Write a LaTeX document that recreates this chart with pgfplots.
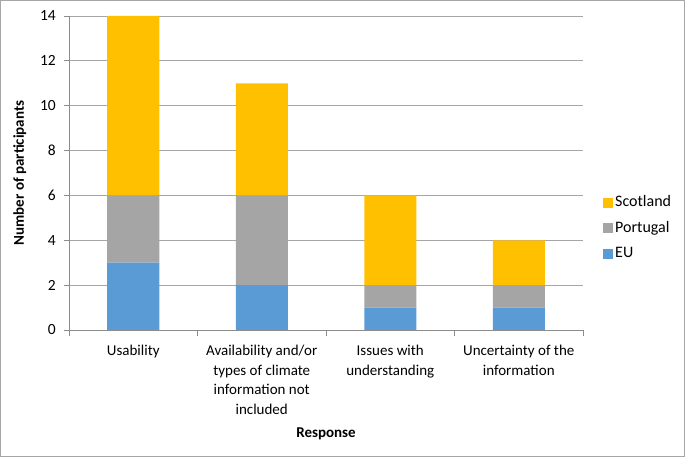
\documentclass[border=0pt]{standalone}
\usepackage{pgfplots}
\pgfplotsset{compat=1.18}
\usepackage{pgfplotstable}
\usepackage{fontspec}
\setmainfont{Carlito}
\definecolor{cEU}{HTML}{5B9BD5}
\definecolor{cPT}{HTML}{A5A5A5}
\definecolor{cSC}{HTML}{FFC000}
\definecolor{axisgray}{HTML}{8C8C8C}
\definecolor{gridgray}{HTML}{A6A6A6}
\pgfplotstableread{
x EU Portugal Scotland
0 3 3 8
1 2 4 5
2 1 1 4
3 1 1 2
}\datatable
\begin{document}
\fontsize{15}{19.5}\selectfont
\begin{tikzpicture}
\draw[gray!70, line width=1pt] (0.5pt,0.5pt) rectangle (684.5pt,456.5pt);
\begin{axis}[
  at={(69pt,127pt)}, anchor=south west,
  width=514pt, height=314pt, scale only axis,
  ybar stacked, bar width=52pt,
  xmin=-0.5, xmax=3.5, ymin=0, ymax=14,
  ytick={0,2,...,14},
  xtick={0,1,2,3},
  xticklabels={Usability, {Availability and/or\\types of climate\\information not\\included}, {Issues with\\understanding}, {Uncertainty of the\\information}},
  xticklabel style={align=center, yshift=-5pt, font=\fontsize{15}{19.5}\selectfont},
  yticklabel style={font=\fontsize{15.5}{18}\selectfont, xshift=-3pt},
  /pgf/number format/assume math mode=true,
  axis x line=bottom, axis y line=left,
  axis line style={-, draw=axisgray, line width=0.8pt},
  tick align=outside,
  x tick style={draw=none},
  y tick style={draw=axisgray, line width=0.8pt},
  major tick length=5pt,
  extra x ticks={-0.5,0.5,1.5,2.5,3.5},
  extra x tick labels={},
  extra x tick style={grid=none, major tick length=6pt, x tick style={draw=axisgray, line width=0.8pt}},
  ymajorgrids, grid style={draw=gridgray, line width=0.8pt},
  xlabel={\textbf{Response}},
  ylabel={\textbf{Number of participants}},
  xlabel style={at={(0.5,0)}, anchor=base, yshift=-108pt, font=\fontsize{15}{18}\selectfont},
  ylabel style={at={(0,0.5)}, anchor=base, yshift=45pt, font=\fontsize{15}{18}\selectfont},
  legend style={at={(1,0.325)}, anchor=west, xshift=20pt, draw=none, fill=none,
    font=\fontsize{16}{18}\selectfont, row sep=8.5pt, inner sep=0pt},
  legend cell align=left,
  reverse legend,
  legend image code/.code={\fill[#1] (0pt,-5pt) rectangle (10pt,5pt);},
]
\addplot[fill=cEU, draw=none] table[x=x, y=EU] {\datatable};
\addplot[fill=cPT, draw=none] table[x=x, y=Portugal] {\datatable};
\addplot[fill=cSC, draw=none] table[x=x, y=Scotland] {\datatable};
\legend{EU, Portugal, Scotland}
\end{axis}
\end{tikzpicture}
\end{document}
